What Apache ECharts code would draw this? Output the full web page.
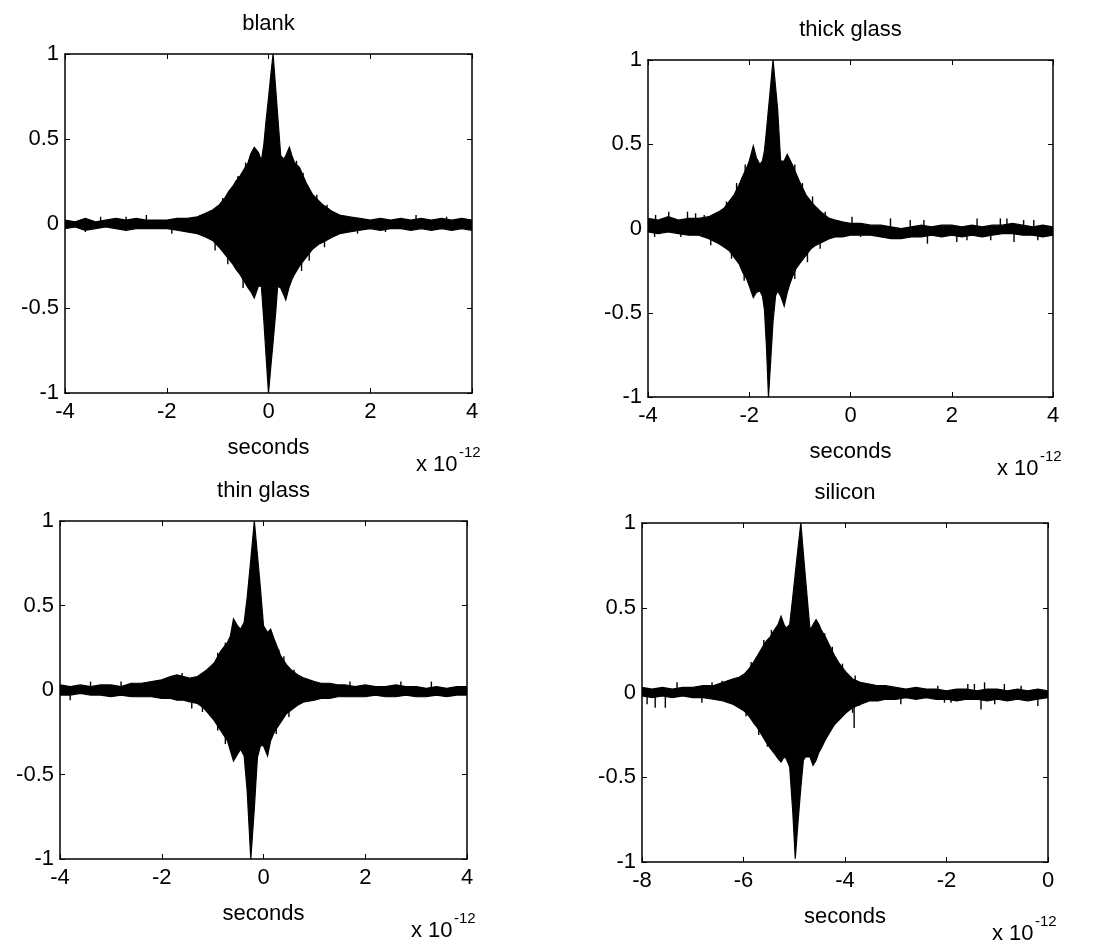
<!DOCTYPE html>
<html><head><meta charset="utf-8">
<script src="https://cdn.jsdelivr.net/npm/echarts@6/dist/echarts.min.js"></script>
<style>html,body{margin:0;padding:0;background:#fff}#c{width:1093px;height:945px}</style>
</head><body><div id="c"></div>
<script>
// ---------- data (time in units of 1e-12 s) ----------
const titles = ['blank', 'thick glass', 'thin glass', 'silicon'];
const xLabel = 'seconds';
const xRanges = [[-4, 4], [-4, 4], [-4, 4], [-8, 0]];
const yTicks = [-1, -0.5, 0, 0.5, 1];

// blank
const t1 = [-4,-3.8,-3.6,-3.4,-3.2,-3.0,-2.8,-2.6,-2.4,-2.2,-2.0,-1.8,-1.6,-1.4,-1.24,-1.1,-0.97,-0.86,-0.78,-0.7,-0.64,-0.56,-0.48,-0.4,-0.35,-0.28,-0.2,-0.14,-0.09,-0.05,0.0,0.05,0.09,0.14,0.18,0.24,0.3,0.34,0.41,0.46,0.51,0.61,0.74,0.87,1.0,1.07,1.26,1.4,1.59,1.8,2.0,2.2,2.4,2.6,2.8,3.0,3.2,3.4,3.6,3.8,4.0];
const up1 = [0.02,0.01,0.03,0.01,0.02,0.03,0.02,0.03,0.02,0.02,0.02,0.03,0.03,0.04,0.06,0.08,0.11,0.15,0.19,0.22,0.25,0.28,0.32,0.36,0.41,0.45,0.42,0.37,0.47,0.60,0.74,0.89,1.0,0.80,0.64,0.40,0.38,0.40,0.45,0.40,0.36,0.33,0.24,0.17,0.13,0.11,0.07,0.05,0.04,0.03,0.02,0.03,0.02,0.03,0.02,0.03,0.02,0.03,0.02,0.03,0.02];
const lo1 = [-0.03,-0.02,-0.04,-0.03,-0.02,-0.03,-0.04,-0.03,-0.03,-0.03,-0.03,-0.04,-0.05,-0.06,-0.08,-0.10,-0.14,-0.18,-0.21,-0.24,-0.27,-0.30,-0.34,-0.38,-0.40,-0.44,-0.37,-0.37,-0.58,-0.77,-1.0,-0.83,-0.70,-0.53,-0.37,-0.38,-0.42,-0.45,-0.37,-0.33,-0.30,-0.25,-0.20,-0.15,-0.12,-0.11,-0.08,-0.06,-0.05,-0.04,-0.03,-0.04,-0.03,-0.03,-0.04,-0.03,-0.04,-0.03,-0.04,-0.03,-0.04];
const spT1 = [-3.6,-3.3,-2.8,-2.4,-1.9,-1.05,-0.9,-0.8,-0.6,-0.5,-0.45,0.55,0.65,0.68,0.8,0.95,1.1,1.15,1.75,2.3,2.9,3.5];
const spV1 = [-0.05,0.04,0.04,0.05,-0.06,-0.16,0.15,-0.24,0.28,-0.38,0.36,0.37,-0.28,0.30,-0.22,0.17,-0.14,0.11,-0.06,-0.05,0.05,0.04];

// thick glass
const t2 = [-4,-3.8,-3.6,-3.4,-3.2,-3.0,-2.8,-2.6,-2.5,-2.4,-2.3,-2.2,-2.13,-2.05,-2.0,-1.92,-1.86,-1.79,-1.74,-1.7,-1.66,-1.62,-1.57,-1.53,-1.48,-1.44,-1.38,-1.31,-1.25,-1.2,-1.15,-1.08,-1.01,-0.88,-0.78,-0.69,-0.55,-0.42,-0.3,-0.16,0.0,0.2,0.4,0.6,0.8,1.0,1.2,1.4,1.6,1.8,2.0,2.2,2.4,2.6,2.8,3.0,3.2,3.4,3.6,3.8,4.0];
const up2 = [0.06,0.05,0.07,0.05,0.06,0.06,0.07,0.10,0.12,0.16,0.20,0.26,0.31,0.36,0.40,0.49,0.42,0.38,0.40,0.46,0.58,0.71,0.87,1.0,0.84,0.71,0.40,0.40,0.44,0.41,0.38,0.33,0.28,0.20,0.16,0.13,0.09,0.06,0.05,0.04,0.03,0.03,0.02,0.02,0.01,0.00,0.01,0.02,0.01,0.02,0.02,0.01,0.02,0.01,0.02,0.02,0.03,0.02,0.01,0.02,0.01];
const lo2 = [-0.02,-0.03,-0.02,-0.03,-0.04,-0.04,-0.06,-0.09,-0.11,-0.13,-0.17,-0.21,-0.26,-0.30,-0.34,-0.41,-0.38,-0.37,-0.40,-0.48,-0.70,-1.0,-0.75,-0.55,-0.40,-0.37,-0.40,-0.46,-0.38,-0.33,-0.29,-0.24,-0.21,-0.16,-0.12,-0.10,-0.08,-0.06,-0.05,-0.05,-0.04,-0.04,-0.04,-0.05,-0.06,-0.06,-0.05,-0.05,-0.04,-0.05,-0.04,-0.05,-0.04,-0.05,-0.04,-0.03,-0.03,-0.04,-0.04,-0.05,-0.04];
const spT2 = [-3.87,-3.85,-3.59,-3.35,-3.22,-3.06,-2.89,-2.76,-2.45,-2.35,-2.25,-2.1,-2.08,-1.1,-1.1,-0.95,-0.85,-0.75,-0.6,-0.5,0.03,0.2,0.79,1.18,1.45,1.52,2.1,2.3,2.5,2.77,2.96,3.09,3.23,3.42,3.62,3.7];
const spV2 = [-0.05,0.08,0.10,-0.05,0.10,0.09,0.08,-0.10,0.16,-0.18,0.27,-0.31,0.38,0.38,-0.30,0.27,-0.20,0.19,-0.12,0.10,0.07,-0.05,0.06,0.05,0.05,-0.09,-0.08,-0.07,0.06,-0.07,0.06,0.06,-0.08,0.05,0.05,-0.07];

// thin glass
const t3 = [-4,-3.8,-3.6,-3.4,-3.2,-3.0,-2.8,-2.6,-2.4,-2.2,-2.0,-1.83,-1.7,-1.57,-1.45,-1.3,-1.2,-1.11,-0.97,-0.84,-0.71,-0.65,-0.59,-0.51,-0.45,-0.38,-0.32,-0.25,-0.18,-0.12,-0.06,0.0,0.08,0.14,0.21,0.34,0.45,0.54,0.67,0.8,1.0,1.13,1.3,1.46,1.6,1.8,2.0,2.2,2.4,2.6,2.8,3.0,3.2,3.4,3.6,3.8,4.0];
const up3 = [0.03,0.02,0.03,0.02,0.03,0.03,0.02,0.04,0.04,0.05,0.06,0.08,0.09,0.08,0.07,0.08,0.10,0.12,0.16,0.23,0.28,0.32,0.42,0.38,0.36,0.40,0.55,0.77,1.0,0.80,0.60,0.38,0.34,0.36,0.30,0.20,0.15,0.12,0.09,0.07,0.05,0.04,0.04,0.03,0.03,0.02,0.03,0.02,0.02,0.03,0.02,0.02,0.01,0.02,0.01,0.02,0.02];
const lo3 = [-0.03,-0.03,-0.02,-0.03,-0.03,-0.04,-0.03,-0.04,-0.04,-0.04,-0.05,-0.05,-0.06,-0.06,-0.07,-0.08,-0.10,-0.13,-0.18,-0.24,-0.30,-0.36,-0.42,-0.38,-0.35,-0.39,-0.60,-1.0,-0.70,-0.40,-0.33,-0.33,-0.39,-0.30,-0.25,-0.19,-0.14,-0.12,-0.09,-0.07,-0.06,-0.05,-0.05,-0.04,-0.04,-0.04,-0.04,-0.03,-0.04,-0.04,-0.03,-0.04,-0.04,-0.03,-0.04,-0.03,-0.03];
const spT3 = [-3.8,-3.4,-2.8,-1.6,-1.41,-1.2,-1.1,-0.9,-0.9,-0.75,-0.75,0.25,0.3,0.4,0.5,0.6,1.7,2.7,3.3];
const spV3 = [-0.06,0.05,0.05,0.10,-0.11,-0.13,0.12,0.22,-0.24,0.28,-0.32,-0.26,0.24,0.20,-0.16,0.12,0.05,0.05,0.05];

// silicon
const t4 = [-8,-7.8,-7.6,-7.4,-7.2,-7.0,-6.8,-6.6,-6.4,-6.2,-6.09,-5.98,-5.89,-5.8,-5.72,-5.64,-5.56,-5.47,-5.39,-5.32,-5.26,-5.2,-5.16,-5.09,-5.03,-4.98,-4.93,-4.87,-4.82,-4.78,-4.69,-4.63,-4.57,-4.51,-4.47,-4.39,-4.31,-4.21,-4.11,-3.98,-3.85,-3.7,-3.52,-3.35,-3.2,-3.0,-2.8,-2.6,-2.4,-2.2,-2.0,-1.8,-1.6,-1.4,-1.2,-1.0,-0.8,-0.6,-0.4,-0.2,0.0];
const up4 = [0.03,0.02,0.03,0.02,0.03,0.03,0.04,0.04,0.06,0.08,0.09,0.11,0.14,0.18,0.22,0.26,0.30,0.33,0.37,0.40,0.45,0.40,0.38,0.40,0.56,0.70,0.84,1.0,0.82,0.68,0.37,0.40,0.43,0.40,0.37,0.33,0.28,0.22,0.17,0.12,0.08,0.06,0.05,0.04,0.04,0.03,0.02,0.03,0.02,0.02,0.01,0.02,0.02,0.01,0.02,0.02,0.01,0.02,0.01,0.02,0.01];
const lo4 = [-0.02,-0.03,-0.02,-0.03,-0.02,-0.03,-0.03,-0.04,-0.05,-0.07,-0.09,-0.11,-0.14,-0.18,-0.21,-0.25,-0.29,-0.33,-0.36,-0.39,-0.41,-0.38,-0.39,-0.44,-0.70,-0.98,-0.78,-0.56,-0.40,-0.38,-0.38,-0.43,-0.40,-0.35,-0.33,-0.28,-0.24,-0.19,-0.16,-0.12,-0.09,-0.07,-0.05,-0.05,-0.04,-0.04,-0.03,-0.04,-0.03,-0.04,-0.04,-0.05,-0.04,-0.04,-0.05,-0.04,-0.05,-0.04,-0.05,-0.04,-0.03];
const spT4 = [-7.9,-7.74,-7.54,-7.31,-6.82,-6.62,-6.42,-6.06,-5.95,-5.85,-5.7,-5.6,-5.53,-5.45,-4.4,-4.25,-4.05,-3.85,-3.82,-3.8,-3.72,-2.9,-2.17,-2.04,-1.91,-1.58,-1.45,-1.32,-1.25,-1.05,-0.86,-0.53,-0.2];
const spV4 = [-0.07,-0.09,-0.09,0.06,-0.06,0.06,0.07,-0.07,-0.14,0.18,-0.25,0.31,-0.32,0.37,0.35,0.27,0.17,-0.12,-0.21,0.10,-0.08,-0.07,0.04,-0.06,-0.06,0.05,0.05,-0.10,0.06,-0.07,0.05,0.04,-0.08];

const signals = [[t1, up1, lo1], [t2, up2, lo2], [t3, up3, lo3], [t4, up4, lo4]];
const spikes = [[spT1, spV1], [spT2, spV2], [spT3, spV3], [spT4, spV4]];

// ---------- layout ----------
const boxes = [
  {left: 65, top: 54, width: 407, height: 339},
  {left: 648, top: 60, width: 405, height: 337},
  {left: 60, top: 521, width: 407, height: 338},
  {left: 642, top: 523, width: 406, height: 339}
];
const FONT = '"Liberation Sans", Arial, Helvetica, sans-serif';
const FS = 22;

const chart = echarts.init(document.getElementById('c'), null, {renderer: 'canvas'});

const grid = [], xAxis = [], yAxis = [], series = [], graphic = [];
const lineStyle = {color: '#000', width: 1.5};

boxes.forEach((b, k) => {
  grid.push({left: b.left, top: b.top, width: b.width, height: b.height, show: false, containLabel: false});
  const [xmin, xmax] = xRanges[k];
  const common = {type: 'value', min: xmin, max: xmax, interval: 2, splitLine: {show: false},
    axisLine: {show: true, onZero: false, lineStyle}, axisTick: {show: true, inside: true, length: 5, lineStyle: {color: '#000', width: 1}}};
  xAxis.push(Object.assign({}, common, {gridIndex: k, position: 'bottom',
    axisLabel: {show: true, color: '#000', fontFamily: FONT, fontSize: FS, margin: 8, formatter: v => String(v)}}));
  xAxis.push(Object.assign({}, common, {gridIndex: k, position: 'top', axisLabel: {show: false}}));
  const ycommon = {type: 'value', min: yTicks[0], max: yTicks[yTicks.length - 1], interval: 0.5, splitLine: {show: false},
    axisLine: {show: true, onZero: false, lineStyle}, axisTick: {show: true, inside: true, length: 5, lineStyle: {color: '#000', width: 1}}};
  yAxis.push(Object.assign({}, ycommon, {gridIndex: k, position: 'left',
    axisLabel: {show: true, color: '#000', fontFamily: FONT, fontSize: FS, margin: 6, formatter: v => String(v)}}));
  yAxis.push(Object.assign({}, ycommon, {gridIndex: k, position: 'right', axisLabel: {show: false}}));

  const [tt, uu, ll] = signals[k];
  const rows = tt.map((t, i) => [t, uu[i], ll[i]]);
  series.push({
    type: 'custom', xAxisIndex: 2 * k, yAxisIndex: 2 * k, data: rows, clip: true, silent: true,
    encode: {x: 0, y: [1, 2]},
    renderItem: (params, api) => {
      if (params.dataIndexInside !== 0) return null;
      const n = params.dataInsideLength;
      const pts = [];
      for (let i = 0; i < n; i++) pts.push(api.coord([api.value(0, i), api.value(1, i)]));
      for (let i = n - 1; i >= 0; i--) pts.push(api.coord([api.value(0, i), api.value(2, i)]));
      return {type: 'polygon', shape: {points: pts}, style: {fill: '#000', stroke: '#000', lineWidth: 1.2}};
    }
  });
  const [st, sv] = spikes[k];
  series.push({
    type: 'custom', xAxisIndex: 2 * k, yAxisIndex: 2 * k, data: st.map((t, i) => [t, sv[i]]), clip: true, silent: true,
    encode: {x: 0, y: 1},
    renderItem: (params, api) => {
      const a = api.coord([api.value(0), 0]);
      const b2 = api.coord([api.value(0), api.value(1)]);
      return {type: 'line', shape: {x1: a[0], y1: a[1], x2: b2[0], y2: b2[1]}, style: {stroke: '#000', lineWidth: 1.4}};
    }
  });

  const cx = b.left + b.width / 2;
  graphic.push({type: 'text', x: cx, y: b.top - 30, style: {text: titles[k], fill: '#000', font: FS + 'px ' + FONT, align: 'center', verticalAlign: 'middle'}});
  graphic.push({type: 'text', x: cx, y: b.top + b.height + 55, style: {text: xLabel, fill: '#000', font: FS + 'px ' + FONT, align: 'center', verticalAlign: 'middle'}});
  const rx = b.left + b.width;
  graphic.push({type: 'text', x: rx - 56, y: b.top + b.height + 72, style: {text: 'x 10', fill: '#000', font: FS + 'px ' + FONT, align: 'left', verticalAlign: 'middle'}});
  graphic.push({type: 'text', x: rx - 13, y: b.top + b.height + 60, style: {text: '-12', fill: '#000', font: '15px ' + FONT, align: 'left', verticalAlign: 'middle'}});
});

chart.setOption({animation: false, backgroundColor: '#fff', grid, xAxis, yAxis, series, graphic});
</script>
</body></html>
